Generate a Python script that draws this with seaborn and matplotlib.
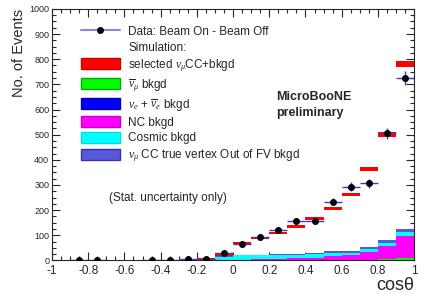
import numpy as np
import pandas as pd
import matplotlib
matplotlib.use("Agg")
import matplotlib.pyplot as plt
from matplotlib.patches import Patch
from matplotlib.lines import Line2D
from matplotlib.ticker import MultipleLocator, FuncFormatter
import seaborn as sns

# bin centres in cos(theta), 20 bins from -1 to 1
bin_centers = [-0.95, -0.85, -0.75, -0.65, -0.55, -0.45, -0.35, -0.25, -0.15, -0.05,
               0.05, 0.15, 0.25, 0.35, 0.45, 0.55, 0.65, 0.75, 0.85, 0.95]

# stacked background components
oofv   = [0.3, 0.3, 0.3, 0.3, 0.3, 0.3, 0.4, 0.6, 1, 4, 3, 3, 3, 4, 6, 8, 5, 7, 11, 13]
cosmic = [0.5, 0.5, 0.5, 0.5, 0.5, 0.5, 0.8, 2, 3, 13, 16, 15, 14, 14, 14, 13, 11, 12, 12, 14]
nc     = [0, 0, 0, 0, 0, 0, 0, 0.2, 0.5, 1, 3, 4, 6, 8, 9, 16, 18, 31, 50, 88]
nue    = [0, 0, 0, 0, 0, 0, 0, 0, 0, 0.2, 0.3, 0.4, 0.5, 0.6, 0.8, 1, 1, 1.2, 1.5, 2]
numubar = [0, 0, 0, 0, 0, 0, 0, 0, 0, 0.3, 0.5, 0.6, 0.7, 0.8, 1, 1, 1.2, 2, 5, 8]

# selected numu CC + bkgd (MC total) and its stat. uncertainty
mc_total = [0, 0, 0, 0, 0, 0, 1, 3, 6, 24, 69, 89, 109, 135, 165, 205, 262, 365, 500, 781]
mc_err   = [0, 0, 0, 0, 0, 0, 1, 2, 3, 5, 5, 5, 5, 6, 6, 6, 7, 8, 9, 12]

# data: beam on - beam off
data_vals = [np.nan, 1, 1, np.nan, np.nan, 1, 1, 5, 5, 28, 65, 93, 121, 156, 157, 234, 293, 307, 506, 724]
data_err  = [0, 1, 1, 0, 0, 1, 1, 2, 2, 5, 8, 10, 11, 13, 13, 15, 17, 18, 22, 28]

labels = {
    'oofv': r'$\nu_{\mu}$ CC true vertex Out of FV bkgd',
    'cosmic': 'Cosmic bkgd',
    'nc': 'NC bkgd',
    'nue': r'$\nu_{e}$ + $\overline{\nu}_{e}$ bkgd',
    'numubar': r'$\overline{\nu}_{\mu}$ bkgd',
}
colors = {'oofv': '#5a58d8', 'cosmic': '#00ffff', 'nc': '#ff00ff',
          'nue': '#0000ff', 'numubar': '#00ff00'}
edge_colors = {'oofv': '#3333aa', 'cosmic': '#00dddd', 'nc': '#cc00cc',
               'nue': '#0000aa', 'numubar': '#00aa00'}

rows = []
for key, vals in [('oofv', oofv), ('cosmic', cosmic), ('nc', nc),
                  ('nue', nue), ('numubar', numubar)]:
    for c, v in zip(bin_centers, vals):
        rows.append({'cos': c, 'events': v, 'comp': key})
bkg = pd.DataFrame(rows)

sns.set_style("ticks")
plt.rcParams['font.family'] = ['Liberation Sans', 'DejaVu Sans']
plt.rcParams['mathtext.fontset'] = 'custom'
plt.rcParams['mathtext.rm'] = 'Liberation Sans'
plt.rcParams['mathtext.it'] = 'Liberation Serif:italic'

fig = plt.figure(figsize=(4.25, 2.96), dpi=100)
ax = fig.add_axes([0.1224, 0.12, 0.852, 0.85])

sns.histplot(data=bkg, x='cos', weights='events', hue='comp',
             hue_order=['oofv', 'cosmic', 'nc', 'nue', 'numubar'],
             palette=colors, binwidth=0.1, binrange=(-1, 1), multiple='stack',
             element='bars', alpha=1, linewidth=0, legend=False, ax=ax)

# MC total drawn as error boxes
mc_total = np.array(mc_total, dtype=float)
mc_err = np.array(mc_err, dtype=float)
ax.bar(bin_centers, 2 * mc_err, bottom=mc_total - mc_err, width=0.1,
       color='#ff0000', linewidth=0, zorder=3)

# data points
ax.errorbar(bin_centers, data_vals, yerr=data_err, xerr=0.05, fmt='o',
            color='black', ms=4, ecolor='#3a3acc', elinewidth=1, capsize=0, zorder=4)

ax.set_xlim(-1, 1)
ax.set_ylim(0, 1000)
ax.xaxis.set_major_locator(MultipleLocator(0.2))
ax.xaxis.set_minor_locator(MultipleLocator(0.05))
ax.yaxis.set_major_locator(MultipleLocator(100))
ax.yaxis.set_minor_locator(MultipleLocator(25))
ax.xaxis.set_major_formatter(FuncFormatter(lambda v, p: '%g' % round(v, 2)))
ax.tick_params(which='both', direction='in', top=True, right=True, width=0.8)
ax.tick_params(which='major', length=6)
ax.tick_params(which='minor', length=3)
ax.tick_params(axis='x', labelsize=8.5, pad=3)
ax.tick_params(axis='y', labelsize=6.5, pad=2)
for s in ax.spines.values():
    s.set_linewidth(0.8)

ax.set_xlabel('cos\u03b8', fontsize=13, loc='right', labelpad=0)
ax.set_ylabel('No. of Events', fontsize=10.5, loc='top', labelpad=2)

handles = [
    Line2D([], [], color='#8888dd', marker='o', mfc='black', mec='black', ms=4),
    Patch(visible=False),
    Patch(facecolor='#ff0000', edgecolor='#cc0000'),
    Patch(facecolor=colors['numubar'], edgecolor=edge_colors['numubar']),
    Patch(facecolor=colors['nue'], edgecolor=edge_colors['nue']),
    Patch(facecolor=colors['nc'], edgecolor=edge_colors['nc']),
    Patch(facecolor=colors['cosmic'], edgecolor=edge_colors['cosmic']),
    Patch(facecolor=colors['oofv'], edgecolor=edge_colors['oofv']),
]
leg_labels = ['Data: Beam On - Beam Off', 'Simulation:',
              r'selected $\nu_{\mu}$CC+bkgd', labels['numubar'], labels['nue'],
              labels['nc'], labels['cosmic'], labels['oofv']]
ax.legend(handles, leg_labels, loc='upper left', bbox_to_anchor=(0.08, 0.935),
          frameon=False, fontsize=8.5, handlelength=3.3, handleheight=1.05,
          handletextpad=0.7, labelspacing=0.28, borderaxespad=0, borderpad=0)

ax.text(0.157, 0.249, '(Stat. uncertainty only)', transform=ax.transAxes,
        fontsize=8.5, ha='left', va='center')
ax.text(0.62, 0.618, 'MicroBooNE\npreliminary', transform=ax.transAxes,
        fontsize=9, fontweight='bold', ha='left', va='center', linespacing=1.5)

fig.savefig('out.png', dpi=100)
